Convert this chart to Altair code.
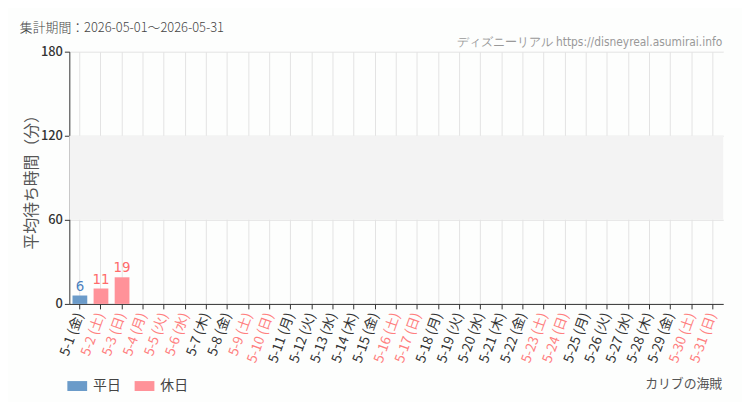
import altair as alt
import pandas as pd

days = [f"5-{d}" for d in range(1, 32)]
weekdays = ["金", "土", "日", "月", "火", "水", "木"] * 5
weekdays = weekdays[:31]
holidays = ["5-2", "5-3", "5-4", "5-5", "5-6", "5-9", "5-10", "5-16", "5-17",
            "5-23", "5-24", "5-30", "5-31"]
values = [6, 11, 19] + [None] * 28

labels = [f"{d} ({w})" for d, w in zip(days, weekdays)]
types = ["休日" if d in holidays else "平日" for d in days]
holiday_labels = [l for l, t in zip(labels, types) if t == "休日"]

df = pd.DataFrame({"label": labels, "value": values, "type": types})

FONT = "Noto Sans CJK JP"
COND = "DejaVu Sans Condensed, Liberation Sans Narrow, Roboto"
arr = "[" + ",".join(f"'{l}'" for l in holiday_labels) + "]"
label_color_expr = f"indexof({arr}, datum.value) >= 0 ? '#ff7f7f' : '#333333'"

xenc = alt.X("label:N", sort=labels, scale=alt.Scale(domain=labels, paddingInner=0.3, paddingOuter=0.15),
             axis=alt.Axis(title=None, labelAngle=-70, labelFontSize=13.5, labelFont=FONT,
                           labelColor=alt.expr(label_color_expr), domainColor="#333333",
                           tickColor="#333333", tickSize=5, grid=True, gridColor="#e3e3e3",
                           labelPadding=4))
yscale = alt.Scale(domain=[0, 180])
yenc = alt.Y("value:Q", scale=yscale,
             axis=alt.Axis(title="平均待ち時間（分）", values=[0, 60, 120, 180], labelFontSize=13,
                           labelFont=FONT, labelColor="#333333", labelFontWeight=500,
                           titleFont=FONT, titleFontSize=16,
                           titleFontWeight="normal", titleColor="#555555", titlePadding=1,
                           domainColor="#333333", tickColor="#333333", tickSize=5,
                           gridColor="#e3e3e3"))

band = alt.Chart(pd.DataFrame({"y": [60], "y2": [120]})).mark_rect(color="#f3f3f3").encode(
    y=alt.Y("y:Q", scale=yscale), y2="y2:Q")

color = alt.Color("type:N", scale=alt.Scale(domain=["平日", "休日"], range=["#6b9bc9", "#ff9299"]),
                  legend=alt.Legend(title=None, orient="none", direction="horizontal",
                                    legendX=-2, legendY=328,
                                    symbolType="M-1,-0.5H1V0.5H-1Z", symbolSize=400,
                                    symbolStrokeWidth=0, symbolOpacity=1,
                                    labelFont=FONT, labelFontSize=14, labelColor="#444444",
                                    columnPadding=14, labelOffset=6))

bars = alt.Chart(df).mark_bar().encode(x=xenc, y=yenc, color=color)

text = alt.Chart(df).transform_filter("isValid(datum.value)").mark_text(
    dy=-10, fontSize=15, font=COND, fontWeight="normal").encode(
    x=alt.X("label:N", sort=labels), y=alt.Y("value:Q"), text="value:Q",
    color=alt.Color("type:N", scale=alt.Scale(domain=["平日", "休日"], range=["#4a7fbf", "#ff6b6b"]),
                    legend=None))

title_df = pd.DataFrame({"t": ["集計期間：2026-05-01～2026-05-31"]})
title = alt.Chart(title_df).mark_text(align="left", baseline="alphabetic", fontSize=13,
                                      font=FONT, color="#444444", fontWeight=300).encode(
    text="t:N", x=alt.value(-50), y=alt.value(-20))

site_df = pd.DataFrame({"t": ["ディズニーリアル https://disneyreal.asumirai.info"]})
site = alt.Chart(site_df).mark_text(align="right", baseline="alphabetic", fontSize=12,
                                    font=COND, color="#999999").encode(
    text="t:N", x=alt.value(660), y=alt.value(-6))

name_df = pd.DataFrame({"t": ["カリブの海賊"]})
name = alt.Chart(name_df).mark_text(align="right", baseline="middle", fontSize=13,
                                    font=FONT, color="#555555").encode(
    text="t:N", x=alt.value(660), y=alt.value(336))

chart = alt.layer(band, bars, text, title, site, name).resolve_scale(color="independent").properties(
    width=661, height=255,
    autosize=alt.AutoSizeParams(type="none"),
    padding={"left": 62, "top": 42, "right": 19, "bottom": 97},
    background="#fdfefd",
).configure_view(stroke=None)

chart.save("out.html", embed_options={"renderer": "svg", "actions": False})
